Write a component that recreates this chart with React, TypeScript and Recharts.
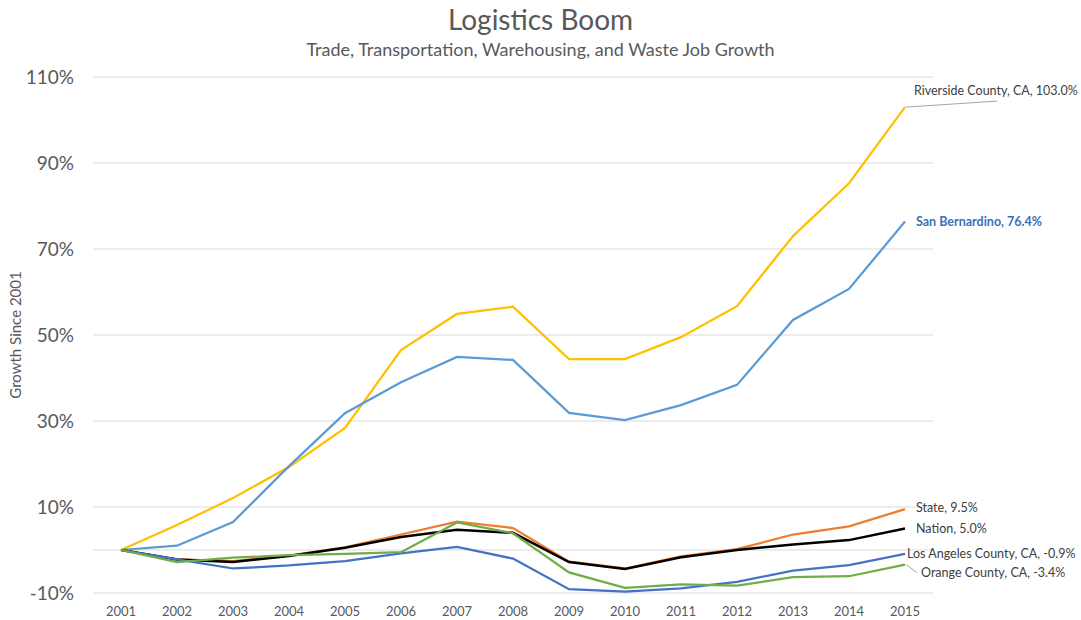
import React from "react";
import {
  LineChart,
  Line,
  XAxis,
  YAxis,
  CartesianGrid,
  ReferenceLine,
  Label,
} from "recharts";

const YEARS = [
  "2001", "2002", "2003", "2004", "2005", "2006", "2007", "2008",
  "2009", "2010", "2011", "2012", "2013", "2014", "2015",
];

const RIVERSIDE = [0, 5.8, 12.1, 19.3, 28.4, 46.5, 54.9, 56.6, 44.4, 44.4, 49.5, 56.7, 73.0, 85.3, 103.0];
const SAN_BERNARDINO = [0, 1.0, 6.5, 19.5, 31.8, 39.0, 44.9, 44.2, 31.9, 30.2, 33.7, 38.4, 53.5, 60.7, 76.4];
const STATE = [0, -2.2, -2.6, -1.3, 0.6, 3.6, 6.6, 5.1, -2.7, -4.3, -1.5, 0.2, 3.6, 5.5, 9.5];
const NATION = [0, -2.2, -2.8, -1.4, 0.5, 3.0, 4.7, 4.0, -2.8, -4.4, -1.7, 0.0, 1.3, 2.3, 5.0];
const LOS_ANGELES = [0, -2.2, -4.3, -3.6, -2.6, -0.8, 0.7, -2.0, -9.1, -9.7, -8.9, -7.4, -4.8, -3.5, -0.9];
const ORANGE_COUNTY = [0, -2.8, -1.8, -1.2, -0.9, -0.5, 6.4, 3.9, -5.2, -8.8, -8.0, -8.3, -6.3, -6.1, -3.4];

const Y_TICKS = [-10, 10, 30, 50, 70, 90, 110];

const data = YEARS.map((year, i) => ({
  year,
  riverside: RIVERSIDE[i],
  sanBernardino: SAN_BERNARDINO[i],
  state: STATE[i],
  nation: NATION[i],
  losAngeles: LOS_ANGELES[i],
  orangeCounty: ORANGE_COUNTY[i],
}));

const FONT = "Lato, 'Open Sans', sans-serif";
const LAST = YEARS.length - 1;

type EndLabelOpts = {
  text: string;
  dx: number;
  dy: number;
  color?: string;
  bold?: boolean;
  leader?: [number, number];
};

function endLabel(opts: EndLabelOpts) {
  return (props: any) => {
    const { x, y, index } = props;
    if (index !== LAST) return null;
    return (
      <g>
        {opts.leader && (
          <line
            x1={x + 1}
            y1={y}
            x2={x + opts.leader[0]}
            y2={y + opts.leader[1]}
            stroke="#a6a6a6"
            strokeWidth={1}
          />
        )}
        <text
          x={x + opts.dx}
          y={y + opts.dy}
          fontSize={12.5}
          fontFamily={FONT}
          fontWeight={opts.bold ? 700 : 400}
          fill={opts.color ?? "#404040"}
          dominantBaseline="middle"
        >
          {opts.text}
        </text>
      </g>
    );
  };
}

export default function App() {
  return (
    <div
      style={{
        position: "absolute",
        left: 0,
        top: 0,
        width: 1081,
        height: 620,
        background: "#fff",
        fontFamily: FONT,
      }}
    >
      <div
        style={{
          position: "absolute",
          top: 2,
          left: 0,
          width: 1081,
          textAlign: "center",
          fontSize: 28,
          color: "#595959",
        }}
      >
        Logistics Boom
      </div>
      <div
        style={{
          position: "absolute",
          top: 38,
          left: 0,
          width: 1081,
          textAlign: "center",
          fontSize: 18,
          color: "#595959",
        }}
      >
        Trade, Transportation, Warehousing, and Waste Job Growth
      </div>
      <LineChart
        width={1081}
        height={620}
        data={data}
        margin={{ top: 77, right: 148, bottom: 0, left: 0 }}
      >
        <CartesianGrid vertical={false} stroke="#d9d9d9" />
        <XAxis
          dataKey="year"
          height={27}
          axisLine={false}
          tickLine={false}
          tickMargin={8}
          padding={{ left: 28, right: 28 }}
          tick={{ fontSize: 13, fill: "#595959", fontFamily: FONT }}
          interval={0}
        />
        <YAxis
          width={93}
          domain={[-10, 110]}
          ticks={Y_TICKS}
          axisLine={false}
          tickLine={false}
          tickSize={0}
          tickMargin={19}
          tickFormatter={(v) => `${v}%`}
          tick={{ fontSize: 19, fill: "#595959", fontFamily: FONT }}
        >
          <Label
            value="Growth Since 2001"
            angle={-90}
            position="insideLeft"
            offset={16}
            style={{ fontSize: 15, fill: "#595959", fontFamily: FONT, textAnchor: "middle" }}
          />
        </YAxis>
        <ReferenceLine y={0} stroke="#d9d9d9" strokeWidth={1} />
        <Line
          dataKey="riverside"
          stroke="#ffc000"
          strokeWidth={2.25}
          dot={false}
          isAnimationActive={false}
          label={endLabel({
            text: "Riverside County, CA, 103.0%",
            dx: 9,
            dy: -15,
            leader: [92, -6],
          })}
        />
        <Line
          dataKey="sanBernardino"
          stroke="#5b9bd5"
          strokeWidth={2.25}
          dot={false}
          isAnimationActive={false}
          label={endLabel({
            text: "San Bernardino, 76.4%",
            dx: 11,
            dy: 1,
            color: "#3a70b8",
            bold: true,
          })}
        />
        <Line
          dataKey="state"
          stroke="#ed7d31"
          strokeWidth={2.25}
          dot={false}
          isAnimationActive={false}
          label={endLabel({ text: "State, 9.5%", dx: 11, dy: 0 })}
        />
        <Line
          dataKey="nation"
          stroke="#000000"
          strokeWidth={2.5}
          dot={false}
          isAnimationActive={false}
          label={endLabel({ text: "Nation, 5.0%", dx: 11, dy: 1 })}
        />
        <Line
          dataKey="losAngeles"
          stroke="#4472c4"
          strokeWidth={2.25}
          dot={false}
          isAnimationActive={false}
          label={endLabel({ text: "Los Angeles County, CA, -0.9%", dx: 2, dy: 1 })}
        />
        <Line
          dataKey="orangeCounty"
          stroke="#70ad47"
          strokeWidth={2.25}
          dot={false}
          isAnimationActive={false}
          label={endLabel({
            text: "Orange County, CA, -3.4%",
            dx: 16,
            dy: 9,
            leader: [12, 8],
          })}
        />
      </LineChart>
    </div>
  );
}
